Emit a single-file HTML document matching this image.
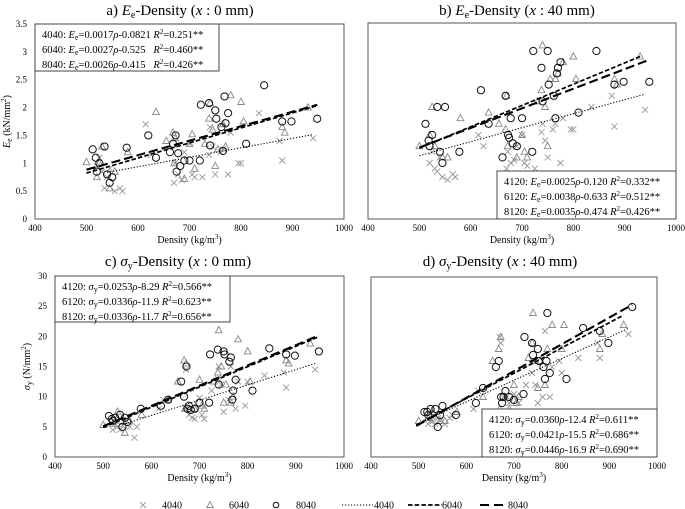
<!DOCTYPE html>
<html><head><meta charset="utf-8">
<style>
html,body{margin:0;padding:0;background:#fff;}
svg{display:block;font-family:"Liberation Serif",serif;}
svg text{font-family:"Liberation Serif",serif;}
</style></head>
<body>
<svg id="fig" width="685" height="509" viewBox="0 0 685 509" xmlns="http://www.w3.org/2000/svg"></svg>
<script>
// ---- data ----
const dens4040 = [520,525,530,535,540,545,555,565,570,615,625,670,672,678,685,690,700,705,710,725,738,740,745,750,760,765,775,780,795,800,835,875,880,940];
const dens6040 = [500,520,525,530,545,555,580,635,655,668,670,672,690,700,705,710,730,738,740,745,750,755,765,770,780,800,805,880,885,930];
const dens8040 = [512,518,520,525,535,540,545,550,578,620,635,662,668,673,675,678,682,690,700,720,722,738,740,750,752,762,765,768,770,775,810,845,880,898,948];

const a4040 = [0.95,1.1,0.85,0.55,0.75,0.9,0.5,0.55,0.5,1.7,1.15,0.65,1.0,0.8,0.7,1.2,1.35,0.8,0.75,0.75,1.15,1.65,1.3,0.8,1.2,1.25,0.8,1.55,1.0,1.0,1.9,1.4,1.05,1.45];
const a6040 = [1.02,0.75,1.0,1.3,0.55,0.85,1.2,1.92,1.4,1.55,1.0,1.45,0.72,1.35,1.52,0.9,1.35,1.8,2.08,1.6,0.95,1.25,1.7,1.3,2.22,2.1,1.75,1.65,1.55,2.0];
const a8040 = [1.25,1.1,0.85,1.0,1.3,0.8,0.65,0.75,1.28,1.5,1.1,1.2,1.35,1.5,0.85,1.18,0.95,1.05,1.05,1.05,2.05,2.08,1.32,1.95,1.8,1.65,1.22,2.2,1.72,1.9,1.35,2.4,1.75,1.75,1.8];

const b4040 = [1.0,1.2,0.9,0.85,1.1,0.75,0.7,0.8,0.75,1.5,1.3,0.9,1.2,1.0,1.05,1.3,1.5,1.0,0.95,0.9,1.55,1.7,1.4,1.1,1.6,1.7,1.0,1.8,1.6,1.6,2.0,2.2,1.65,1.95];
const b6040 = [1.3,1.5,2.0,1.3,1.1,1.1,1.8,1.9,1.7,1.6,2.2,1.3,1.1,1.5,1.2,1.1,2.1,2.3,3.1,2.0,1.3,2.5,2.5,2.6,2.8,2.9,2.5,2.5,2.4,2.9];
const b8040 = [1.7,1.4,1.3,1.5,2.0,1.2,1.0,2.0,1.2,2.3,1.7,1.1,2.2,1.5,1.45,1.8,1.35,1.3,1.8,1.2,3.0,2.7,2.1,3.0,2.4,2.2,1.8,2.6,2.7,2.8,1.9,3.0,2.4,2.45,2.45];

const c4040 = [4.5,5.5,5,4.5,5.2,6,5,3.2,5,8,9.5,8,14.5,7,6.5,6.3,9.8,7,6.3,11,13,15,12,7.5,9.5,15,8,12.5,8.5,12.5,13.5,14,11.5,14.5];
const c6040 = [5.3,5.5,6,7.5,4,6,7,9.5,12.5,16,8,15.5,8,12.8,8.5,8,12.5,14,21,15,9,12,9,10,19.5,17.5,12.5,16,15.5,18.8];
const c8040 = [6.8,6.3,6,6.5,7,5,6.5,5.8,8,8.5,9.5,12.5,10,15,8,8.5,7.8,8,9,9,17,17.8,12,17.5,17,15.8,16.5,9.5,11,12.8,11,18,17,16.8,17.5];

const d4040 = [5.5,6,6,5.5,6.5,6,5.5,6.5,7,8,11,20,19,10,10,9,10.5,9.5,9,12,14,16,12,9,10,21,10,15,16,14,16.5,19,16.5,20.5];
const d6040 = [6,6.5,7,7.5,6,6,7.5,10,16,18,8,20,8,12,9,10,16.5,19,24,16,11.5,16,12,18,22,18,22,18,20.5,22];
const d8040 = [7.5,7.5,7,8,8,5,7,8.5,7,9,11.5,15,16,10,9,10,11,10,9.5,10.5,20,19,17,18,16,15,13,16,24,14,13,21.5,21,19,25];

// fits: [slope, intercept, xStart, xEnd]
const fitA = [[0.0017,-0.0821,540,940],[0.0027,-0.525,500,948],[0.0026,-0.415,500,948]];
const fitB = [[0.0025,-0.120,500,940],[0.0038,-0.633,500,930],[0.0035,-0.474,500,948]];
const fitC = [[0.0253,-8.29,540,940],[0.0336,-11.9,500,948],[0.0336,-11.7,500,948]];
const fitD = [[0.0360,-12.4,495,940],[0.0421,-15.5,495,930],[0.0446,-16.9,495,948]];

const xTicks = [400,500,600,700,800,900,1000];
const yTicksE = [0,0.5,1,1.5,2,2.5,3,3.5];
const yTicksS = [0,5,10,15,20,25,30];

const svg = document.getElementById('fig');
const NS = 'http://www.w3.org/2000/svg';
function mk(tag, attrs, parent){const e=document.createElementNS(NS,tag);for(const k in attrs)e.setAttribute(k,attrs[k]);(parent||svg).appendChild(e);return e;}

const dashes = ['1.2,1.8','4.5,2.2','9,4'];
const lineW = [1.1,1.7,2.1];

function panel(cfg){
  const g = mk('g',{});
  
  
  const {L,R,T,B,ymax} = cfg;
  const sx = v => L + (v-400)/600*(R-L);
  const sy = v => B - v/ymax*(B-T);
  const t = mk('text',{x:cfg.tx,y:cfg.ty,'font-size':15,'text-anchor':'middle'},g);
  
  
  t.innerHTML = cfg.title;
  const box = mk('rect',{x:L,y:T,width:R-L,height:B-T,fill:'none',stroke:'#555','stroke-width':1},g);
  
  
  xTicks.forEach(v=>{
    const tl = mk('text',{x:sx(v),y:B+12,'font-size':9,'text-anchor':'middle'},g);
    
    
    tl.textContent = v;
  });
  const xt = mk('text',{x:(L+R)/2,y:B+24,'font-size':10,'text-anchor':'middle'},g);
  
  
  xt.innerHTML = 'Density (kg/m<tspan dy="-4" font-size="7">3</tspan><tspan dy="4">)</tspan>';
  if(cfg.yTicks){
    cfg.yTicks.forEach(v=>{
      const yl = mk('text',{x:L-8,y:sy(v)+3,'font-size':9,'text-anchor':'end'},g);
      
      
      yl.textContent = v;
    });
    const yt = mk('text',{x:0,y:0,'font-size':10,'text-anchor':'middle',transform:`translate(${cfg.ytx},${(T+B)/2}) rotate(-90)`},g);
    
    
    yt.innerHTML = cfg.ytitle;
  }
  const sets = [[dens4040,cfg.s[0],'x'],[dens6040,cfg.s[1],'tri'],[dens8040,cfg.s[2],'circ']];
  sets.forEach(([xs,ys,kind])=>{
    xs.forEach((xv,i)=>{
      const cx=sx(xv), cy=sy(ys[i]);
      let m;
      if(kind==='x'){
        m = mk('path',{d:`M${cx-3},${cy-3}L${cx+3},${cy+3}M${cx-3},${cy+3}L${cx+3},${cy-3}`,stroke:'#999','stroke-width':0.9,fill:'none'},g);
        
      } else if(kind==='tri'){
        m = mk('path',{d:`M${cx},${cy-3.8}L${cx+3.4},${cy+2.5}L${cx-3.4},${cy+2.5}Z`,stroke:'#888','stroke-width':0.9,fill:'none'},g);
        
      } else {
        m = mk('circle',{cx:cx,cy:cy,r:3.6,stroke:'#111','stroke-width':1,fill:'none'},g);
        
      }
      
    });
  });
  cfg.fit.forEach((f,i)=>{
    const ln = mk('line',{x1:sx(f[2]),y1:sy(f[0]*f[2]+f[1]),x2:sx(f[3]),y2:sy(f[0]*f[3]+f[1]),stroke:'#000','stroke-width':lineW[i],'stroke-dasharray':dashes[i]},g);
    
    
  });
  const eb = cfg.eq;
  const er = mk('rect',{x:eb.x,y:eb.y,width:eb.w,height:eb.h,fill:'#fff',stroke:'#444','stroke-width':1},g);
  
  
  eb.lines.forEach((s,i)=>{
    const et = mk('text',{x:eb.x+7,y:eb.y+14+i*15,'font-size':10.5},g);
    
    
    et.innerHTML = s;
  });
}

const E = '<tspan font-style="italic">E</tspan><tspan font-size="8" dy="2">e</tspan><tspan dy="-2">';
const S = '<tspan font-style="italic">σ</tspan><tspan font-size="8" dy="2">y</tspan><tspan dy="-2">';
const R2 = '<tspan font-style="italic">R</tspan><tspan font-size="7" dy="-4">2</tspan><tspan dy="4">';
const rho = '<tspan font-style="italic">ρ</tspan>';

panel({name:'panel-a',L:35,R:344,T:24,B:219,ymax:3.5,tx:180,ty:15,
  title:'a) <tspan font-style="italic">E</tspan><tspan font-size="10" dy="3">e</tspan><tspan dy="-3">-Density (</tspan><tspan font-style="italic">x</tspan> : 0 mm)',
  yTicks:yTicksE,ytx:10,ytitle:'<tspan font-style="italic">E</tspan><tspan font-size="8" dy="2">e</tspan><tspan dy="-2"> (kN/mm</tspan><tspan font-size="7" dy="-4">2</tspan><tspan dy="4">)</tspan>',
  s:[a4040,a6040,a8040],fit:fitA,
  eq:{x:35,y:24,w:184,h:47,lines:[
    '4040: '+E+'=0.0017</tspan>'+rho+'-0.0821 '+R2+'=0.251**</tspan>',
    '6040: '+E+'=0.0027</tspan>'+rho+'-0.525 &#160; '+R2+'=0.460**</tspan>',
    '8040: '+E+'=0.0026</tspan>'+rho+'-0.415 &#160; '+R2+'=0.426**</tspan>']}});

panel({name:'panel-b',L:368,R:676,T:23,B:219,ymax:3.5,tx:517,ty:15,
  title:'b) <tspan font-style="italic">E</tspan><tspan font-size="10" dy="3">e</tspan><tspan dy="-3">-Density (</tspan><tspan font-style="italic">x</tspan> : 40 mm)',
  yTicks:null,s:[b4040,b6040,b8040],fit:fitB,
  eq:{x:497,y:171,w:179,h:48,lines:[
    '4120: '+E+'=0.0025</tspan>'+rho+'-0.120 '+R2+'=0.332**</tspan>',
    '6120: '+E+'=0.0038</tspan>'+rho+'-0.633 '+R2+'=0.512**</tspan>',
    '8120: '+E+'=0.0035</tspan>'+rho+'-0.474 '+R2+'=0.426**</tspan>']}});

panel({name:'panel-c',L:55,R:344,T:276,B:457,ymax:30,tx:178,ty:266,
  title:'c) <tspan font-style="italic">σ</tspan><tspan font-size="10" dy="3">y</tspan><tspan dy="-3">-Density (</tspan><tspan font-style="italic">x</tspan> : 0 mm)',
  yTicks:yTicksS,ytx:30,ytitle:'<tspan font-style="italic">σ</tspan><tspan font-size="8" dy="2">y</tspan><tspan dy="-2"> (N/mm</tspan><tspan font-size="7" dy="-4">2</tspan><tspan dy="4">)</tspan>',
  s:[c4040,c6040,c8040],fit:fitC,
  eq:{x:55,y:276,w:175,h:46,lines:[
    '4120: '+S+'=0.0253</tspan>'+rho+'-8.29 '+R2+'=0.566**</tspan>',
    '6120: '+S+'=0.0336</tspan>'+rho+'-11.9 '+R2+'=0.623**</tspan>',
    '8120: '+S+'=0.0336</tspan>'+rho+'-11.7 '+R2+'=0.656**</tspan>']}});

panel({name:'panel-d',L:371,R:657,T:277,B:457,ymax:30,tx:500,ty:266,
  title:'d) <tspan font-style="italic">σ</tspan><tspan font-size="10" dy="3">y</tspan><tspan dy="-3">-Density (</tspan><tspan font-style="italic">x</tspan> : 40 mm)',
  yTicks:null,s:[d4040,d6040,d8040],fit:fitD,
  eq:{x:482,y:409,w:175,h:48,lines:[
    '4120: '+S+'=0.0360</tspan>'+rho+'-12.4 '+R2+'=0.611**</tspan>',
    '6120: '+S+'=0.0421</tspan>'+rho+'-15.5 '+R2+'=0.686**</tspan>',
    '8120: '+S+'=0.0446</tspan>'+rho+'-16.9 '+R2+'=0.690**</tspan>']}});

// legend
const lg = mk('g',{});


const LY = 505;
function ltext(x,s){const t=mk('text',{x:x,y:LY+3.5,'font-size':10},lg);t.textContent=s;}
let m;
m=mk('path',{d:`M140,${LY-3}L146,${LY+3}M140,${LY+3}L146,${LY-3}`,stroke:'#999','stroke-width':0.9},lg);

ltext(162,'4040');
m=mk('path',{d:`M210,${LY-3.5}L213.3,${LY+2.5}L206.7,${LY+2.5}Z`,stroke:'#888','stroke-width':0.9,fill:'none'},lg);

ltext(229,'6040');
m=mk('circle',{cx:276,cy:LY,r:2.8,stroke:'#111','stroke-width':1,fill:'none'},lg);

ltext(296,'8040');
m=mk('line',{x1:342,y1:LY,x2:373,y2:LY,stroke:'#000','stroke-width':1.1,'stroke-dasharray':dashes[0]},lg);

ltext(374,'4040');
m=mk('line',{x1:408,y1:LY,x2:442,y2:LY,stroke:'#000','stroke-width':1.7,'stroke-dasharray':dashes[1]},lg);

ltext(442,'6040');
m=mk('line',{x1:480,y1:LY,x2:508,y2:LY,stroke:'#000','stroke-width':2.1,'stroke-dasharray':'9,5'},lg);

ltext(508,'8040');
</script>
</body></html>
